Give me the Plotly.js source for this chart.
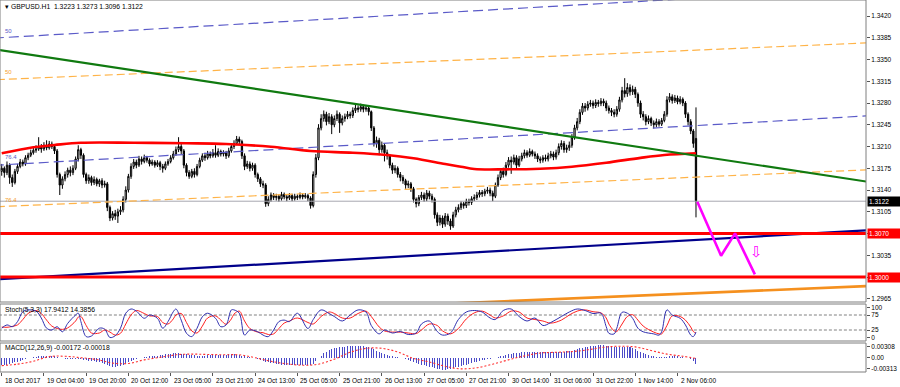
<!DOCTYPE html>
<html><head><meta charset="utf-8">
<script src="https://cdn.plot.ly/plotly-3.0.1.min.js"></script>
<style>html,body{margin:0;padding:0;background:#fff}#chart{width:900px;height:387px}</style>
</head><body><div id="chart"></div>
<script>
// ---- price data (GBPUSD H1, bar index 0..263) ----
const opens = [1.3170,1.3175,1.3168,1.3180,1.3160,1.3152,1.3170,1.3178,1.3185,1.3182,
1.3192,1.3196,1.3200,1.3204,1.3206,1.3210,1.3206,1.3212,1.3208,1.3214,
1.3210,1.3203,1.3165,1.3148,1.3158,1.3165,1.3172,1.3168,1.3175,1.3190,
1.3205,1.3196,1.3165,1.3155,1.3160,1.3152,1.3157,1.3150,1.3155,1.3148,
1.3150,1.3112,1.3095,1.3102,1.3098,1.3105,1.3108,1.3125,1.3140,1.3162,
1.3178,1.3185,1.3180,1.3190,1.3186,1.3192,1.3188,1.3182,1.3185,1.3180,
1.3184,1.3178,1.3175,1.3182,1.3186,1.3192,1.3198,1.3205,1.3210,1.3203,
1.3180,1.3168,1.3162,1.3170,1.3165,1.3178,1.3188,1.3195,1.3192,1.3198,
1.3195,1.3200,1.3196,1.3202,1.3198,1.3200,1.3195,1.3203,1.3210,1.3215,
1.3222,1.3218,1.3195,1.3178,1.3182,1.3175,1.3180,1.3165,1.3158,1.3150,
1.3148,1.3118,1.3125,1.3132,1.3128,1.3130,1.3126,1.3133,1.3129,1.3127,
1.3131,1.3126,1.3130,1.3128,1.3132,1.3129,1.3131,1.3127,1.3115,1.3165,
1.3192,1.3240,1.3255,1.3262,1.3250,1.3258,1.3245,1.3255,1.3262,1.3248,
1.3255,1.3258,1.3262,1.3260,1.3268,1.3272,1.3270,1.3274,1.3270,1.3272,
1.3266,1.3240,1.3215,1.3220,1.3205,1.3212,1.3200,1.3195,1.3180,1.3172,
1.3175,1.3165,1.3160,1.3155,1.3148,1.3150,1.3142,1.3125,1.3118,1.3128,
1.3132,1.3126,1.3135,1.3130,1.3125,1.3100,1.3088,1.3095,1.3085,1.3098,
1.3090,1.3082,1.3100,1.3108,1.3112,1.3118,1.3115,1.3122,1.3120,1.3126,
1.3128,1.3132,1.3136,1.3134,1.3138,1.3140,1.3135,1.3130,1.3148,1.3160,
1.3170,1.3165,1.3180,1.3188,1.3185,1.3192,1.3180,1.3190,1.3195,1.3200,
1.3196,1.3202,1.3198,1.3195,1.3190,1.3188,1.3192,1.3190,1.3195,1.3198,
1.3193,1.3200,1.3210,1.3215,1.3205,1.3208,1.3212,1.3225,1.3240,1.3250,
1.3265,1.3275,1.3272,1.3278,1.3280,1.3276,1.3281,1.3279,1.3283,1.3280,
1.3272,1.3268,1.3265,1.3262,1.3270,1.3285,1.3300,1.3295,1.3305,1.3298,
1.3302,1.3294,1.3280,1.3262,1.3258,1.3250,1.3255,1.3248,1.3245,1.3250,
1.3246,1.3252,1.3262,1.3285,1.3290,1.3284,1.3288,1.3282,1.3286,1.3280,
1.3262,1.3250,1.3235,1.3223];
const highs = [1.3182,1.3178,1.3186,1.3183,1.3165,1.3174,1.3182,1.3190,1.3189,1.3196,
1.3200,1.3205,1.3208,1.3212,1.3225,1.3214,1.3217,1.3220,1.3219,1.3218,
1.3213,1.3206,1.3168,1.3162,1.3170,1.3176,1.3178,1.3180,1.3194,1.3212,
1.3208,1.3199,1.3168,1.3165,1.3163,1.3162,1.3160,1.3158,1.3159,1.3155,
1.3153,1.3115,1.3106,1.3108,1.3110,1.3114,1.3130,1.3146,1.3166,1.3183,
1.3190,1.3189,1.3195,1.3194,1.3197,1.3195,1.3191,1.3189,1.3188,1.3188,
1.3187,1.3182,1.3186,1.3190,1.3196,1.3203,1.3210,1.3225,1.3214,1.3206,
1.3183,1.3172,1.3174,1.3175,1.3182,1.3192,1.3199,1.3200,1.3203,1.3202,
1.3206,1.3212,1.3207,1.3205,1.3204,1.3203,1.3208,1.3214,1.3220,1.3227,
1.3226,1.3221,1.3199,1.3187,1.3186,1.3184,1.3183,1.3168,1.3161,1.3155,
1.3151,1.3130,1.3136,1.3135,1.3134,1.3133,1.3137,1.3136,1.3132,1.3135,
1.3134,1.3134,1.3133,1.3136,1.3135,1.3135,1.3134,1.3130,1.3170,1.3198,
1.3246,1.3262,1.3268,1.3266,1.3264,1.3262,1.3260,1.3268,1.3265,1.3260,
1.3263,1.3267,1.3266,1.3273,1.3278,1.3276,1.3279,1.3277,1.3276,1.3275,
1.3268,1.3243,1.3226,1.3224,1.3218,1.3215,1.3205,1.3198,1.3184,1.3180,
1.3178,1.3169,1.3164,1.3158,1.3155,1.3153,1.3145,1.3128,1.3132,1.3137,
1.3136,1.3140,1.3139,1.3134,1.3128,1.3104,1.3100,1.3099,1.3103,1.3102,
1.3094,1.3105,1.3113,1.3117,1.3122,1.3121,1.3126,1.3126,1.3130,1.3133,
1.3137,1.3140,1.3140,1.3142,1.3145,1.3144,1.3139,1.3152,1.3165,1.3175,
1.3176,1.3185,1.3193,1.3194,1.3197,1.3196,1.3195,1.3200,1.3205,1.3204,
1.3207,1.3205,1.3202,1.3199,1.3194,1.3196,1.3197,1.3200,1.3203,1.3202,
1.3205,1.3215,1.3220,1.3219,1.3213,1.3218,1.3230,1.3245,1.3256,1.3270,
1.3280,1.3280,1.3283,1.3285,1.3284,1.3286,1.3285,1.3288,1.3287,1.3284,
1.3276,1.3272,1.3270,1.3275,1.3290,1.3306,1.3320,1.3312,1.3310,1.3308,
1.3306,1.3297,1.3284,1.3267,1.3262,1.3260,1.3258,1.3252,1.3255,1.3254,
1.3256,1.3267,1.3291,1.3296,1.3294,1.3293,1.3292,1.3291,1.3289,1.3283,
1.3265,1.3254,1.3238,1.3273];
const lows = [1.3163,1.3160,1.3164,1.3150,1.3145,1.3149,1.3166,1.3175,1.3178,1.3179,
1.3188,1.3193,1.3197,1.3200,1.3203,1.3200,1.3203,1.3204,1.3205,1.3206,
1.3198,1.3160,1.3132,1.3142,1.3154,1.3160,1.3162,1.3164,1.3172,1.3186,
1.3190,1.3160,1.3150,1.3150,1.3147,1.3148,1.3146,1.3145,1.3143,1.3144,
1.3106,1.3090,1.3091,1.3092,1.3087,1.3100,1.3104,1.3120,1.3136,1.3158,
1.3174,1.3175,1.3177,1.3181,1.3183,1.3184,1.3178,1.3179,1.3176,1.3177,
1.3172,1.3168,1.3172,1.3179,1.3183,1.3189,1.3195,1.3201,1.3198,1.3175,
1.3162,1.3158,1.3159,1.3160,1.3162,1.3175,1.3185,1.3187,1.3189,1.3191,
1.3192,1.3192,1.3193,1.3194,1.3194,1.3190,1.3192,1.3200,1.3206,1.3212,
1.3213,1.3190,1.3172,1.3174,1.3170,1.3171,1.3160,1.3153,1.3145,1.3143,
1.3113,1.3114,1.3121,1.3124,1.3123,1.3121,1.3123,1.3125,1.3122,1.3124,
1.3122,1.3123,1.3124,1.3125,1.3125,1.3126,1.3122,1.3110,1.3112,1.3160,
1.3188,1.3236,1.3250,1.3244,1.3246,1.3230,1.3241,1.3251,1.3232,1.3244,
1.3250,1.3254,1.3255,1.3256,1.3264,1.3265,1.3266,1.3265,1.3266,1.3260,
1.3235,1.3210,1.3208,1.3196,1.3200,1.3186,1.3189,1.3175,1.3166,1.3167,
1.3160,1.3154,1.3150,1.3142,1.3143,1.3137,1.3120,1.3112,1.3114,1.3124,
1.3121,1.3122,1.3125,1.3120,1.3094,1.3082,1.3083,1.3079,1.3081,1.3084,
1.3076,1.3079,1.3096,1.3104,1.3108,1.3110,1.3111,1.3115,1.3116,1.3122,
1.3124,1.3128,1.3129,1.3130,1.3134,1.3130,1.3122,1.3127,1.3145,1.3156,
1.3160,1.3162,1.3176,1.3166,1.3181,1.3175,1.3177,1.3186,1.3191,1.3192,
1.3193,1.3194,1.3190,1.3185,1.3183,1.3184,1.3186,1.3186,1.3191,1.3188,
1.3189,1.3196,1.3205,1.3200,1.3200,1.3203,1.3208,1.3221,1.3236,1.3246,
1.3261,1.3266,1.3268,1.3274,1.3271,1.3272,1.3274,1.3275,1.3275,1.3267,
1.3263,1.3259,1.3257,1.3258,1.3266,1.3281,1.3289,1.3290,1.3292,1.3293,
1.3288,1.3274,1.3256,1.3252,1.3244,1.3246,1.3243,1.3239,1.3241,1.3242,
1.3243,1.3249,1.3258,1.3281,1.3279,1.3280,1.3278,1.3278,1.3275,1.3256,
1.3244,1.3230,1.3208,1.3096];
const closes = [1.3175,1.3168,1.3180,1.3160,1.3152,1.3170,1.3178,1.3185,1.3182,1.3192,
1.3196,1.3200,1.3204,1.3206,1.3210,1.3206,1.3212,1.3208,1.3214,1.3210,
1.3203,1.3165,1.3148,1.3158,1.3165,1.3172,1.3168,1.3175,1.3190,1.3205,
1.3196,1.3165,1.3155,1.3160,1.3152,1.3157,1.3150,1.3155,1.3148,1.3150,
1.3112,1.3095,1.3102,1.3098,1.3105,1.3108,1.3125,1.3140,1.3162,1.3178,
1.3185,1.3180,1.3190,1.3186,1.3192,1.3188,1.3182,1.3185,1.3180,1.3184,
1.3178,1.3175,1.3182,1.3186,1.3192,1.3198,1.3205,1.3210,1.3203,1.3180,
1.3168,1.3162,1.3170,1.3165,1.3178,1.3188,1.3195,1.3192,1.3198,1.3195,
1.3200,1.3196,1.3202,1.3198,1.3200,1.3195,1.3203,1.3210,1.3215,1.3222,
1.3218,1.3195,1.3178,1.3182,1.3175,1.3180,1.3165,1.3158,1.3150,1.3148,
1.3118,1.3125,1.3132,1.3128,1.3130,1.3126,1.3133,1.3129,1.3127,1.3131,
1.3126,1.3130,1.3128,1.3132,1.3129,1.3131,1.3127,1.3115,1.3165,1.3192,
1.3240,1.3255,1.3262,1.3250,1.3258,1.3245,1.3255,1.3262,1.3248,1.3255,
1.3258,1.3262,1.3260,1.3268,1.3272,1.3270,1.3274,1.3270,1.3272,1.3266,
1.3240,1.3215,1.3220,1.3205,1.3212,1.3200,1.3195,1.3180,1.3172,1.3175,
1.3165,1.3160,1.3155,1.3148,1.3150,1.3142,1.3125,1.3118,1.3128,1.3132,
1.3126,1.3135,1.3130,1.3125,1.3100,1.3088,1.3095,1.3085,1.3098,1.3090,
1.3082,1.3100,1.3108,1.3112,1.3118,1.3115,1.3122,1.3120,1.3126,1.3128,
1.3132,1.3136,1.3134,1.3138,1.3140,1.3135,1.3130,1.3148,1.3160,1.3170,
1.3165,1.3180,1.3188,1.3185,1.3192,1.3180,1.3190,1.3195,1.3200,1.3196,
1.3202,1.3198,1.3195,1.3190,1.3188,1.3192,1.3190,1.3195,1.3198,1.3193,
1.3200,1.3210,1.3215,1.3205,1.3208,1.3212,1.3225,1.3240,1.3250,1.3265,
1.3275,1.3272,1.3278,1.3280,1.3276,1.3281,1.3279,1.3283,1.3280,1.3272,
1.3268,1.3265,1.3262,1.3270,1.3285,1.3300,1.3295,1.3305,1.3298,1.3302,
1.3294,1.3280,1.3262,1.3258,1.3250,1.3255,1.3248,1.3245,1.3250,1.3246,
1.3252,1.3262,1.3285,1.3290,1.3284,1.3288,1.3282,1.3286,1.3280,1.3262,
1.3250,1.3235,1.3215,1.3122];

// ---- moving average (red) read at bar indices ----
const maIdx = [0,12,20,30,50,70,85,102,117,133,146,156,168,174,179,191,204,216,229,242,251,263];
const maVal = [1.31991,1.32087,1.32124,1.32161,1.32161,1.32152,1.32140,1.32097,1.32028,1.32000,1.31963,1.31910,1.31818,1.31775,1.31738,1.31733,1.31743,1.31775,1.31839,1.31918,1.31963,1.31991];

// ---- drawn objects: [start bar, end bar] and prices ----
const rayIdx = [-20, 340];
const greenLine = [1.33778, 1.31456];
const blueTop = [1.33804, 1.34672];
const blueMid = [1.31756, 1.32622];
const orangeTop = [1.33144, 1.33789];
const orangeLow = [1.31099, 1.31746];
const navyLine = [1.29921, 1.30781];
const orangeSolidIdx = [150, 340];
const orangeSolid = [1.29538, 1.29876];
const levels = [1.3070, 1.3000];
const lastPrice = 1.3122;
const zigIdx = [263.5, 272.5, 277.8, 285.3];
const zigPrice = [1.31212, 1.30343, 1.30703, 1.30043];
const arrowIdx = 286.1, arrowPrice = 1.30402;

// ---- stochastic (5,3,3) ----
const stIdx = [0,2,4,6,8,10,13,15,17,19,21,23,25,28,29,30,32,34,37,39,41,43,45,47,49,51,54,56,59,61,63,65,66,68,70,72,74,76,78,81,83,85,87,88,90,92,94,97,99,101,103,105,107,109,112,116,118,121,124,126,129,132,135,138,140,143,145,148,151,154,157,159,162,165,167,170,173,176,179,182,185,187,190,193,196,199,202,205,208,212,215,218,221,224,227,229,230,232,233,235,237,239,241,243,247,249,250,252,254,257,259,261,262,263];
const stMain = [31,42,36,53,86,92,88,65,31,25,36,19,47,75,81,53,3,5,31,28,0,6,31,81,95,88,64,75,64,31,53,86,95,58,14,3,31,69,81,64,36,42,92,92,81,8,25,19,8,3,25,53,58,53,81,30,60,92,80,70,55,75,92,85,40,12,25,15,20,10,15,45,55,20,8,15,60,85,90,85,65,60,90,95,70,55,65,40,50,70,85,95,90,80,81,36,14,12,31,84,81,64,31,19,12,8,19,92,75,64,42,8,3,18];
const stSig = [35,34,37,42,60,80,90,80,58,38,30,27,32,55,68,70,40,15,15,25,18,8,14,45,75,90,80,72,70,50,45,62,75,80,50,22,15,38,65,72,58,44,62,78,88,55,30,18,16,10,12,30,48,55,65,50,45,70,85,80,65,65,80,88,70,35,22,18,18,15,13,25,45,40,22,12,30,62,82,88,75,65,72,88,85,65,60,55,48,58,75,88,92,86,82,65,45,22,20,45,70,76,58,38,18,12,12,40,72,70,58,35,20,14];

// ---- MACD (12,26,9) ----
const macd = [-0.0021,-0.0020,-0.0019,-0.0017,-0.0015,-0.0013,-0.0011,-0.0008,-0.0006,-0.0004,-0.0002,0.0000,
0.0002,0.0003,0.0004,0.0005,0.0005,0.0006,0.0006,0.0005,0.0005,0.0003,0.0000,
-0.0002,-0.0004,-0.0005,-0.0005,-0.0004,-0.0004,-0.0003,-0.0004,-0.0006,-0.0007,-0.0008,-0.0009,-0.0010,-0.0011,-0.0012,
-0.0015,-0.0018,-0.0021,-0.0023,-0.0025,-0.0025,-0.0024,-0.0022,
-0.0019,-0.0016,-0.0012,-0.0009,-0.0006,-0.0004,-0.0002,
0.0000,0.0002,0.0003,0.0004,0.0005,0.0006,0.0006,0.0007,0.0008,0.0009,0.0010,0.0011,0.0012,0.0012,0.0012,0.0011,0.0010,0.0009,0.0008,0.0007,0.0007,0.0006,0.0006,
0.0006,0.0006,0.0007,0.0007,0.0007,0.0008,0.0008,0.0008,0.0008,0.0008,0.0009,0.0009,0.0009,0.0008,0.0007,
0.0005,0.0004,0.0002,0.0001,0.0000,
-0.0002,-0.0004,-0.0006,-0.0008,-0.0011,-0.0013,-0.0015,-0.0016,-0.0017,-0.0018,-0.0019,-0.0019,-0.0020,-0.0020,-0.0020,-0.0020,-0.0021,
-0.0021,-0.0021,-0.0020,-0.0020,-0.0020,-0.0017,
-0.0010,-0.0002,0.0006,0.0012,0.0017,0.0021,0.0024,
0.0026,0.0028,0.0029,0.0030,0.0031,0.0032,0.0032,0.0033,0.0033,0.0033,0.0033,0.0032,0.0031,0.0030,0.0027,
0.0023,0.0019,0.0016,0.0013,0.0010,0.0008,0.0006,0.0004,0.0002,0.0001,0.0000,-0.0002,
-0.0004,-0.0007,-0.0010,-0.0013,-0.0015,-0.0017,-0.0019,-0.0021,-0.0023,-0.0025,-0.0027,-0.0029,-0.0031,-0.0032,-0.0033,-0.0033,-0.0032,-0.0031,-0.0029,
-0.0027,-0.0025,-0.0023,-0.0021,-0.0019,-0.0017,-0.0015,-0.0013,-0.0011,-0.0009,-0.0007,-0.0006,-0.0004,-0.0003,-0.0001,
0.0000,0.0002,0.0004,0.0006,0.0008,0.0010,0.0011,0.0012,0.0013,0.0014,0.0015,0.0015,0.0016,0.0016,0.0016,0.0016,0.0016,0.0015,0.0015,0.0015,0.0015,0.0015,0.0015,0.0016,0.0016,0.0017,0.0017,0.0018,0.0019,
0.0020,0.0022,0.0024,0.0026,0.0028,0.0030,0.0031,0.0032,0.0033,0.0033,0.0034,0.0034,0.0034,0.0033,0.0032,0.0031,0.0030,
0.0029,0.0029,0.0029,0.0030,0.0030,0.0029,0.0027,0.0024,0.0020,0.0016,0.0012,0.0009,0.0007,
0.0005,0.0004,0.0003,0.0003,0.0002,0.0002,0.0003,0.0004,0.0004,0.0004,0.0004,0.0003,0.0002,
0.0000,-0.0002,-0.0005,-0.0008,-0.0017];
const sigIdx = [0,6,12,18,24,30,36,42,48,54,60,66,72,78,84,90,96,102,108,114,120,126,132,138,144,150,156,162,168,174,180,186,192,198,204,210,216,222,228,234,240,246,252,258,263];
const sigVal = [-0.0022,-0.0018,-0.0010,0.0003,0.0004,0.0000,-0.0005,-0.0015,-0.0016,-0.0006,0.0001,0.0008,0.0010,0.0009,0.0008,0.0008,0.0000,-0.0010,-0.0017,-0.0021,-0.0018,-0.0004,0.0015,0.0026,0.0026,0.0016,-0.0002,-0.0012,-0.0024,-0.0031,-0.0028,-0.0018,-0.0006,0.0005,0.0013,0.0015,0.0017,0.0022,0.0029,0.0032,0.0030,0.0020,0.0010,0.0004,-0.0002];

// ---- axis labels ----
const timeTickIdx = [0,16,32,48,64,80,96,112,128,144,160,176,192,208,224,240,256];
const timeTickText = ["18 Oct 2017","19 Oct 04:00","19 Oct 20:00","20 Oct 12:00","23 Oct 05:00","23 Oct 21:00","24 Oct 13:00","25 Oct 05:00","25 Oct 21:00","26 Oct 13:00","27 Oct 05:00","27 Oct 21:00","30 Oct 14:00","31 Oct 06:00","31 Oct 22:00","1 Nov 14:00","2 Nov 06:00"];
const priceTicks = [1.2965,1.3000,1.3035,1.3070,1.3105,1.3140,1.3175,1.3210,1.3245,1.3280,1.3315,1.3350,1.3385,1.3420];
const stTicks = [0,25,75,100];
const macdTicks = [-0.00313,0,0.00308];
const macdTickText = ["-0.00313","0.00","0.00308"];
const titleText = "GBPUSD.H1  1.3223 1.3273 1.3096 1.3122";
const stochText = "Stoch(5,3,3) 17.9412 14.3856";
const macdText = "MACD(12,26,9) -0.00172 -0.00018";

// ---------------------------------------------------------------
const idx = closes.map((_, i) => i);
const F = "Liberation Sans, Arial, sans-serif";
const fs = 6.5;
function line(x, y, color, width, dash, yaxis, shape) {
  return {type:'scatter', mode:'lines', x:x, y:y, yaxis:yaxis||'y', hoverinfo:'skip',
    line:{color:color, width:width, dash:dash||'solid', shape:shape||'linear'}};
}
const traces = [
  {type:'candlestick', x:idx, open:opens, high:highs, low:lows, close:closes, yaxis:'y',
   increasing:{line:{color:'#000', width:1}, fillcolor:'#fff'},
   decreasing:{line:{color:'#000', width:1}, fillcolor:'#000'},
   whiskerwidth:0, hoverinfo:'skip'},
  line(rayIdx, [lastPrice,lastPrice], '#A8A8B0', 1),
  line(rayIdx, blueTop, '#5A5AC8', 1.2, '10px,5px'),
  line(rayIdx, blueMid, '#5A5AC8', 1.2, '10px,5px'),
  line(rayIdx, orangeTop, '#FFB347', 1.2, '8px,4px'),
  line(rayIdx, orangeLow, '#FFB347', 1.2, '8px,4px'),
  line(maIdx, maVal, '#FF0000', 2.6, 'solid', 'y', 'spline'),
  line(rayIdx, greenLine, '#107A10', 2.2),
  line(rayIdx, navyLine, '#00008B', 2.2),
  line(orangeSolidIdx, orangeSolid, '#F5901E', 2.6),
  line(rayIdx, [levels[0],levels[0]], '#FF0000', 3),
  line(rayIdx, [levels[1],levels[1]], '#FF0000', 3),
  line(zigIdx, zigPrice, '#FF00FF', 2.6),
  // stochastic
  line(rayIdx, [75,75], '#606060', 0.8, '3px,2px', 'y2'),
  line(rayIdx, [25,25], '#606060', 0.8, '3px,2px', 'y2'),
  line(stIdx, stSig, '#FF2020', 1, 'solid', 'y2', 'spline'),
  line(stIdx, stMain, '#3030B0', 1, 'solid', 'y2', 'spline'),
  // MACD
  {type:'bar', x:idx, y:macd, yaxis:'y3', width:0.38, marker:{color:'#4A4AC8', line:{width:0}}, hoverinfo:'skip'},
  line(sigIdx, sigVal, '#FF3030', 1.1, '2px,2px', 'y3', 'spline')
];

// pixel helpers for panel frames (plot area 866 x 372)
const H = 372;
const py = v => (H - v) / H;
const frame = (y0, y1) => ({type:'rect', xref:'paper', yref:'paper', x0:0, x1:1, y0:py(y1), y1:py(y0),
  line:{color:'#7F7F7F', width:1}, fillcolor:'rgba(0,0,0,0)', layer:'above'});

const annotations = [
  {xref:'paper', yref:'paper', x:0.004, y:py(7), xanchor:'left', yanchor:'middle', showarrow:false,
   text:'▾ ' + titleText, font:{family:F, size:6.8, color:'#000'}},
  {xref:'paper', yref:'paper', x:0.004, y:py(310), xanchor:'left', yanchor:'middle', showarrow:false,
   text:stochText, font:{family:F, size:6.8, color:'#000'}},
  {xref:'paper', yref:'paper', x:0.004, y:py(348), xanchor:'left', yanchor:'middle', showarrow:false,
   text:macdText, font:{family:F, size:6.8, color:'#000'}},
  {xref:'paper', yref:'y', x:0.003, y:1.33959, xanchor:'left', yanchor:'middle', showarrow:false, text:'50', font:{family:F, size:6, color:'#5A5AC8'}},
  {xref:'paper', yref:'y', x:0.003, y:1.33299, xanchor:'left', yanchor:'middle', showarrow:false, text:'50', font:{family:F, size:6, color:'#F5A030'}},
  {xref:'paper', yref:'y', x:0.003, y:1.31931, xanchor:'left', yanchor:'middle', showarrow:false, text:'76.4', font:{family:F, size:6, color:'#5A5AC8'}},
  {xref:'paper', yref:'y', x:0.003, y:1.31239, xanchor:'left', yanchor:'middle', showarrow:false, text:'76.4', font:{family:F, size:6, color:'#F5A030'}},
  {xref:'x', yref:'y', x:arrowIdx, y:arrowPrice, showarrow:false, text:'⇩', font:{family:'DejaVu Sans', size:15, color:'#FF00FF'}},
];
// price boxes on the right axis (they carry the text for their levels)
const boxPrices = [lastPrice, levels[0], levels[1]];
const boxColors = ['#000', '#FF0000', '#FF0000'];
boxPrices.forEach((p, k) => {
  annotations.push({xref:'paper', yref:'y', x:1, xshift:1, y:p, xanchor:'left', yanchor:'middle', showarrow:false,
    text:p.toFixed(4), bgcolor:boxColors[k], borderpad:1, width:30, align:'left', font:{family:F, size:6.5, color:'#fff'}});
});
timeTickIdx.forEach((t, k) => {
  annotations.push({xref:'x', yref:'paper', x:t, xshift:1, y:py(375), xanchor:'left', yanchor:'top', showarrow:false,
    text:timeTickText[k], font:{family:F, size:6.5, color:'#000'}});
});
// axis tick text: blank where a price box already shows that level
const priceTickText = priceTicks.map(v => boxPrices.some(b => Math.abs(b - v) < 1e-6) ? '' : v.toFixed(4));

const axFont = {family:F, size:fs, color:'#000'};
const layout = {
  width:900, height:387, margin:{l:0, r:34, t:0, b:15, pad:0},
  paper_bgcolor:'#fff', plot_bgcolor:'#fff', showlegend:false, bargap:0,
  xaxis:{range:[-0.644, 327.4], domain:[0,1], anchor:'y3', showgrid:false, zeroline:false, showline:false,
    tickvals:timeTickIdx, ticks:'outside', ticklen:3, tickcolor:'#555', showticklabels:false,
    rangeslider:{visible:false}, fixedrange:true},
  yaxis:{domain:[py(302),1], range:[1.29598, 1.34458], side:'right', anchor:'x', showgrid:false, zeroline:false,
    tickvals:priceTicks, ticktext:priceTickText, ticks:'outside', ticklen:3, tickcolor:'#555',
    tickfont:axFont, showline:false},
  yaxis2:{domain:[py(341), py(304)], range:[-11.7, 111.7], side:'right', anchor:'x', showgrid:false, zeroline:false,
    tickvals:stTicks, ticks:'outside', ticklen:3, tickcolor:'#555', tickfont:axFont},
  yaxis3:{domain:[0, py(343)], range:[-0.00398, 0.00409], side:'right', anchor:'x', showgrid:false, zeroline:false,
    tickvals:macdTicks, ticktext:macdTickText, ticks:'outside', ticklen:3, tickcolor:'#555', tickfont:axFont},
  shapes:[frame(0,302), frame(304,341), frame(343,372)],
  annotations:annotations
};
Plotly.newPlot('chart', traces, layout, {staticPlot:true, displayModeBar:false});
</script></body></html>
